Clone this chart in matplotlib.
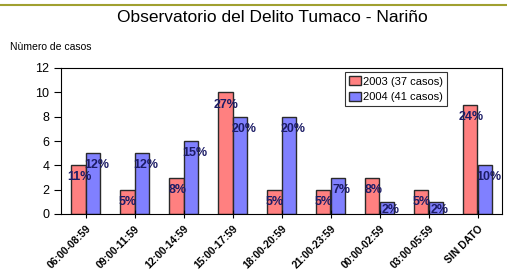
import numpy as np
import matplotlib.pyplot as plt

plt.rcParams['font.family'] = ['Liberation Sans', 'DejaVu Sans']

franjas = ['06:00-08:59', '09:00-11:59', '12:00-14:59', '15:00-17:59',
           '18:00-20:59', '21:00-23:59', '00:00-02:59', '03:00-05:59', 'SIN DATO']
casos_2003 = [4, 2, 3, 10, 2, 2, 3, 2, 9]
casos_2004 = [5, 5, 6, 8, 8, 3, 1, 1, 4]
pct_2003 = ['11%', '5%', '8%', '27%', '5%', '5%', '8%', '5%', '24%']
pct_2004 = ['12%', '12%', '15%', '20%', '20%', '7%', '2%', '2%', '10%']

fig = plt.figure(figsize=(5.07, 2.73), dpi=100)
ax = fig.add_axes([61 / 507, 1 - 214 / 273, 441 / 507, 146 / 273])

x = np.arange(len(franjas))
w = 0.3
ax.bar(x - w / 2, casos_2003, w, color='#FF8080', edgecolor='#2a2a2a',
       linewidth=1.0, label='2003 (37 casos)')
ax.bar(x + w / 2, casos_2004, w, color='#8080FF', edgecolor='#2a2a2a',
       linewidth=1.0, label='2004 (41 casos)')

lab_font = dict(family=['Liberation Sans Narrow', 'Liberation Sans'],
                fontsize=9, fontweight='bold', color='#1c1c66',
                ha='center', va='center')
for i in range(len(franjas)):
    ax.text(x[i] - w / 2 + 0.02, max(casos_2003[i] - 1, 0.3), pct_2003[i], **lab_font)
    ax.text(x[i] + w / 2 + 0.08, max(casos_2004[i] - 1, 0.3), pct_2004[i], **lab_font)

ax.set_xlim(-0.5, 8.5)
ax.set_ylim(0, 12)
ax.set_yticks(range(0, 13, 2))
ax.set_xticks(x)
ax.set_xticklabels(franjas, rotation=45, ha='right', rotation_mode='anchor',
                   fontsize=7.5, fontweight='bold')
ax.tick_params(axis='y', labelsize=9, length=5, direction='out')
ax.tick_params(axis='x', length=6, direction='inout', pad=4)
for s in ax.spines.values():
    s.set_linewidth(0.8)

leg = ax.legend(loc='upper right', bbox_to_anchor=(0.875, 0.97), fontsize=8,
                fancybox=False, edgecolor='black', handlelength=1.1,
                handleheight=0.9, handletextpad=0.2, borderpad=0.35,
                labelspacing=0.45, borderaxespad=0)
leg.get_frame().set_linewidth(0.8)

fig.text(272 / 507, 1 - 18 / 273, 'Observatorio del Delito Tumaco - Nariño',
         ha='center', va='center', fontsize=12.5)
fig.text(10 / 507, 1 - 47 / 273, 'Nùmero de casos', ha='left', va='center',
         fontsize=7.5)
fig.add_artist(plt.Line2D([0, 1], [1 - 4.5 / 273, 1 - 4.5 / 273],
                          color='#A0A030', linewidth=1.5))

fig.savefig('out.png', dpi=100)
